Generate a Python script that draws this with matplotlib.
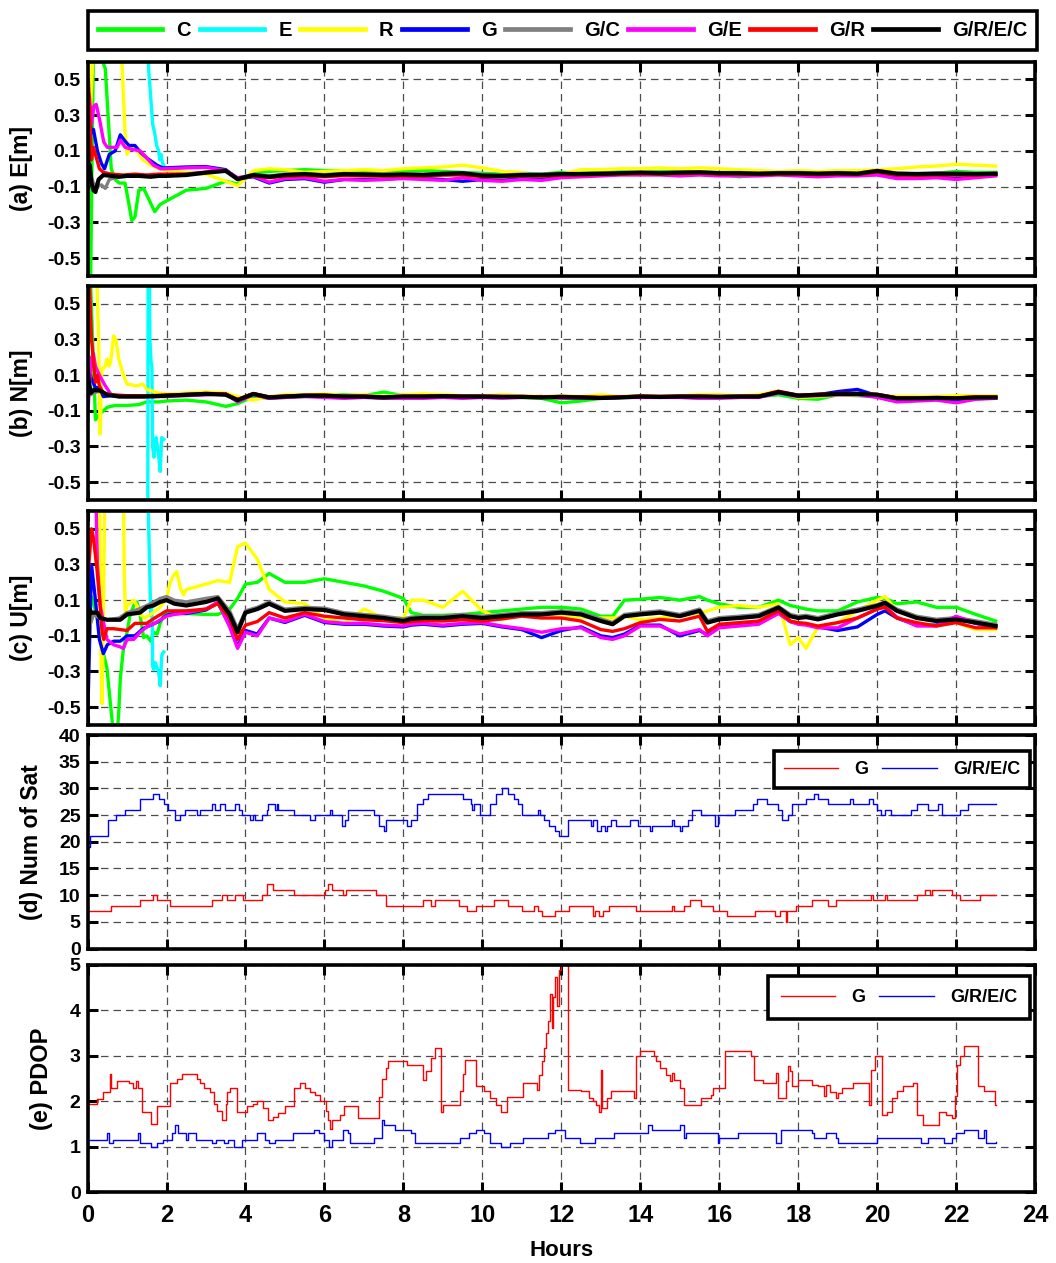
import matplotlib
matplotlib.use("Agg")
import matplotlib.pyplot as plt
from matplotlib.lines import Line2D

plt.rcParams['font.family'] = ['Liberation Sans', 'DejaVu Sans']
plt.rcParams['font.weight'] = 'bold'
plt.rcParams['axes.unicode_minus'] = False

# ---------------------------------------------------------------- series ids
systems = ["C", "E", "R", "G", "G/C", "G/E", "G/R", "G/R/E/C"]
system_colors = ["#00ff00", "#00ffff", "#ffff00", "#0000ff",
                 "#808080", "#ff00ff", "#ff0000", "#000000"]

# ---------------------------------------------------------------- (a) East
east_hours = [2.0, 2.5, 3.0, 3.5, 3.8, 4.2, 4.6, 5.0, 5.5, 6.0,
              6.5, 7.0, 7.5, 8.0, 8.5, 9.0, 9.5, 10.0, 10.5, 11.0,
              11.5, 12.0, 12.5, 13.0, 13.5, 14.0, 14.5, 15.0, 15.5, 16.0,
              16.5, 17.0, 17.5, 18.0, 18.5, 19.0, 19.5, 20.0, 20.5, 21.0,
              21.5, 22.0, 22.5, 23.0]

east_C_early_t = [0.0, 0.08, 0.15, 0.3, 0.45, 0.52, 0.6, 0.7, 0.8, 0.95, 1.05, 1.12, 1.2, 1.3, 1.42, 1.55, 1.7, 1.84]
east_C_early_v = [-0.9, -0.6, 0.7, 0.65, 0.56, 0.3, 0.0, -0.06, -0.08, -0.08, -0.2, -0.29, -0.27, -0.12, -0.11, -0.17, -0.24, -0.2]
east_C = [-0.18, -0.12, -0.11, -0.07, -0.085, -0.025, -0.015, -0.010, -0.005, -0.010,
          -0.010, -0.020, -0.015, -0.010, -0.010, -0.015, -0.020, -0.025, -0.030, -0.025,
          -0.030, -0.020, -0.025, -0.020, -0.015, -0.020, -0.015, -0.015, -0.020, -0.030,
          -0.045, -0.035, -0.030, -0.035, -0.040, -0.035, -0.030, -0.025, -0.030, -0.030,
          -0.025, -0.015, -0.020, -0.020]

east_E_early_t = [0.0, 1.5, 1.55, 1.6, 1.65, 1.7, 1.75, 1.8, 1.83, 1.86, 1.9, 1.93]
east_E_early_v = [1.5, 1.2, 0.55, 0.4, 0.25, 0.2, 0.13, 0.1, 0.05, 0.08, 0.03, 0.02]

east_R_early_t = [0.0, 0.08, 0.15, 0.25, 0.8, 0.87, 0.95, 1.0, 1.1, 1.25, 1.4, 1.6, 1.8]
east_R_early_v = [0.7, 0.35, 0.7, 0.9, 0.9, 0.6, 0.2, 0.08, 0.13, 0.1, 0.05, 0.02, 0.0]
east_R = [-0.010, -0.020, -0.030, -0.070, -0.095, -0.010, 0.000, -0.005, -0.020, -0.015,
          -0.010, -0.005, -0.010, 0.000, 0.005, 0.010, 0.020, 0.005, -0.015, -0.020,
          -0.060, -0.030, -0.005, -0.005, 0.000, 0.000, 0.005, 0.000, 0.005, 0.000,
          -0.005, -0.010, -0.015, -0.010, -0.015, -0.010, -0.010, -0.005, 0.000, 0.010,
          0.015, 0.025, 0.020, 0.015]

east_G_early_t = [0.0, 0.05, 0.1, 0.15, 0.25, 0.35, 0.43, 0.55, 0.7, 0.83, 0.93, 1.05, 1.2, 1.35, 1.5, 1.76, 1.9]
east_G_early_v = [0.42, 0.3, 0.2, 0.22, 0.1, 0.03, 0.0, 0.08, 0.1, 0.19, 0.16, 0.13, 0.13, 0.09, 0.06, 0.02, 0.005]
east_G = [0.005, 0.010, 0.012, -0.005, -0.055, -0.045, -0.080, -0.060, -0.055, -0.075,
          -0.060, -0.060, -0.060, -0.050, -0.055, -0.060, -0.070, -0.060, -0.065, -0.055,
          -0.060, -0.045, -0.040, -0.035, -0.030, -0.030, -0.030, -0.035, -0.020, -0.035,
          -0.035, -0.035, -0.030, -0.025, -0.035, -0.035, -0.035, -0.030, -0.050, -0.050,
          -0.045, -0.055, -0.045, -0.035]

east_GC_early_t = [0.0, 0.05, 0.15, 0.25, 0.35, 0.45, 0.55, 0.7, 0.9, 1.2, 1.5, 1.8]
east_GC_early_v = [0.1, -0.02, -0.08, -0.1, -0.09, -0.11, -0.06, -0.05, -0.04, -0.04, -0.04, -0.035]
east_GC = [-0.035, -0.030, -0.018, -0.010, -0.052, -0.032, -0.040, -0.030, -0.026, -0.033,
           -0.026, -0.028, -0.030, -0.028, -0.030, -0.025, -0.022, -0.033, -0.035, -0.030,
           -0.030, -0.026, -0.026, -0.024, -0.021, -0.019, -0.021, -0.019, -0.017, -0.021,
           -0.021, -0.024, -0.021, -0.021, -0.024, -0.021, -0.024, -0.010, -0.024, -0.026,
           -0.024, -0.024, -0.026, -0.024]

east_GE_early_t = [0.0, 0.05, 0.1, 0.16, 0.22, 0.3, 0.41, 0.5, 0.65, 0.75, 0.83, 0.95, 1.1, 1.33, 1.5, 1.67, 1.85]
east_GE_early_v = [0.45, 0.4, 0.25, 0.35, 0.36, 0.28, 0.15, 0.12, 0.12, 0.12, 0.16, 0.12, 0.11, 0.1, 0.06, 0.02, 0.0]
east_GE = [0.000, 0.005, 0.008, -0.010, -0.050, -0.040, -0.075, -0.055, -0.050, -0.070,
           -0.060, -0.065, -0.060, -0.055, -0.060, -0.065, -0.050, -0.065, -0.070, -0.060,
           -0.065, -0.050, -0.045, -0.040, -0.035, -0.035, -0.035, -0.040, -0.035, -0.040,
           -0.040, -0.040, -0.035, -0.040, -0.045, -0.040, -0.040, -0.035, -0.055, -0.055,
           -0.050, -0.060, -0.050, -0.040]

east_GR_early_t = [0.0, 0.02, 0.05, 0.1, 0.15, 0.2, 0.3, 0.4, 0.6, 0.9, 1.2, 1.5, 1.8]
east_GR_early_v = [-0.4, 0.5, 0.35, 0.05, 0.12, 0.08, 0.0, -0.02, -0.03, -0.035, -0.03, -0.035, -0.03]
east_GR = [-0.030, -0.030, -0.020, -0.010, -0.060, -0.040, -0.050, -0.042, -0.038, -0.045,
           -0.038, -0.040, -0.042, -0.040, -0.042, -0.036, -0.034, -0.045, -0.046, -0.040,
           -0.042, -0.036, -0.035, -0.033, -0.030, -0.028, -0.030, -0.028, -0.025, -0.030,
           -0.030, -0.033, -0.030, -0.030, -0.034, -0.030, -0.033, -0.018, -0.036, -0.038,
           -0.035, -0.036, -0.036, -0.032]

east_GREC_early_t = [0.0, 0.03, 0.06, 0.1, 0.15, 0.2, 0.28, 0.4, 0.6, 0.8, 1.0, 1.3, 1.6, 1.8]
east_GREC_early_v = [0.32, -0.05, 0.02, -0.08, -0.12, -0.13, -0.06, -0.035, -0.04, -0.045, -0.04, -0.04, -0.045, -0.04]
east_GREC = [-0.040, -0.035, -0.022, -0.012, -0.058, -0.035, -0.045, -0.035, -0.030, -0.038,
             -0.030, -0.032, -0.035, -0.032, -0.035, -0.028, -0.025, -0.038, -0.040, -0.035,
             -0.035, -0.030, -0.030, -0.028, -0.025, -0.022, -0.025, -0.022, -0.020, -0.025,
             -0.025, -0.028, -0.025, -0.025, -0.028, -0.025, -0.028, -0.012, -0.028, -0.030,
             -0.028, -0.028, -0.030, -0.028]

# ---------------------------------------------------------------- (b) North
north_hours = east_hours

north_C_early_t = [0.0, 0.04, 0.08, 0.2, 0.3, 0.4, 0.5, 0.7, 1.0, 1.3, 1.5, 1.8]
north_C_early_v = [0.0, 0.7, 0.6, -0.15, -0.12, -0.1, -0.08, -0.07, -0.07, -0.065, -0.05, -0.05]
north_C = [-0.045, -0.040, -0.050, -0.075, -0.060, -0.020, -0.030, -0.025, -0.020, -0.010,
           -0.010, -0.015, 0.005, -0.015, -0.020, -0.020, -0.015, -0.020, -0.020, -0.025,
           -0.030, -0.055, -0.045, -0.030, -0.020, -0.020, -0.025, -0.020, -0.030, -0.025,
           -0.025, -0.020, -0.010, -0.030, -0.035, -0.010, -0.015, -0.020, -0.020, -0.020,
           -0.025, -0.020, -0.020, -0.020]

north_E_early_t = [0.0, 0.03, 1.52, 1.54, 1.58, 1.61, 1.63, 1.65, 1.68, 1.71, 1.74, 1.8, 1.84, 1.88, 1.93]
north_E_early_v = [-0.5, -1.5, -1.5, 1.5, 0.3, 0.17, 0.15, -0.3, -0.36, -0.3, -0.25, -0.35, -0.44, -0.25, -0.26]

north_R_early_t = [0.0, 0.2, 0.28, 0.32, 0.36, 0.45, 0.49, 0.55, 0.6, 0.66, 0.72, 0.79, 0.91, 1.0, 1.25, 1.4, 1.5, 1.8]
north_R_early_v = [0.9, 0.9, 0.3, -0.23, 0.13, 0.15, 0.19, 0.15, 0.2, 0.32, 0.3, 0.19, 0.1, 0.05, 0.04, 0.05, 0.02, 0.0]
north_R = [-0.005, 0.000, 0.005, 0.000, -0.020, -0.040, -0.020, -0.010, -0.010, -0.005,
           -0.015, -0.010, -0.020, -0.010, -0.005, -0.010, -0.015, -0.015, -0.010, -0.015,
           -0.020, -0.015, -0.020, -0.010, -0.020, -0.015, -0.020, -0.015, -0.010, -0.010,
           -0.015, -0.010, 0.012, -0.025, -0.020, -0.010, -0.010, -0.015, -0.020, -0.020,
           -0.020, -0.015, -0.015, -0.015]

north_G_early_t = [0.0, 0.05, 0.1, 0.2, 0.3, 0.4, 0.6, 1.0, 1.5]
north_G_early_v = [0.12, 0.1, 0.08, 0.03, 0.03, -0.02, -0.015, -0.015, -0.015]
north_G = [-0.015, -0.012, -0.008, -0.005, -0.045, -0.008, -0.028, -0.022, -0.018, -0.020,
           -0.025, -0.022, -0.028, -0.025, -0.025, -0.022, -0.025, -0.022, -0.025, -0.022,
           -0.020, -0.025, -0.028, -0.030, -0.025, -0.022, -0.022, -0.022, -0.025, -0.025,
           -0.022, -0.022, 0.002, -0.015, -0.010, 0.008, 0.020, -0.015, -0.045, -0.040,
           -0.035, -0.050, -0.032, -0.028]

north_GC_early_t = [0.0, 0.03, 0.08, 0.15, 0.3, 0.5, 0.8, 1.1, 1.4, 1.7]
north_GC_early_v = [0.1, 0.02, -0.01, 0.0, 0.01, -0.01, -0.02, -0.02, -0.02, -0.02]
north_GC = [-0.012, -0.008, -0.004, -0.008, -0.038, -0.004, -0.022, -0.018, -0.013, -0.013,
            -0.018, -0.018, -0.022, -0.018, -0.018, -0.016, -0.018, -0.018, -0.020, -0.020,
            -0.022, -0.020, -0.022, -0.025, -0.022, -0.018, -0.020, -0.018, -0.018, -0.020,
            -0.018, -0.018, 0.006, -0.013, -0.008, -0.004, -0.004, -0.008, -0.028, -0.028,
            -0.026, -0.028, -0.023, -0.023]

north_GE_early_t = [0.0, 0.05, 0.1, 0.15, 0.2, 0.3, 0.45, 0.6, 1.0, 1.5]
north_GE_early_v = [-0.15, 0.05, 0.2, 0.22, 0.15, 0.1, 0.04, -0.01, -0.02, -0.02]
north_GE = [-0.020, -0.015, -0.010, -0.005, -0.050, -0.010, -0.030, -0.025, -0.020, -0.025,
            -0.030, -0.025, -0.030, -0.030, -0.030, -0.025, -0.030, -0.025, -0.030, -0.025,
            -0.020, -0.030, -0.030, -0.030, -0.025, -0.025, -0.025, -0.025, -0.030, -0.030,
            -0.025, -0.025, 0.000, -0.020, -0.015, -0.010, -0.010, -0.025, -0.050, -0.045,
            -0.040, -0.055, -0.035, -0.030]

north_GR_early_t = [0.0, 0.05, 0.1, 0.2, 0.25, 0.3, 0.4, 0.6, 1.0, 1.5]
north_GR_early_v = [0.7, 0.6, 0.3, 0.06, 0.1, 0.04, 0.0, -0.01, -0.015, -0.015]
north_GR = [-0.012, -0.008, -0.002, -0.006, -0.036, -0.003, -0.022, -0.017, -0.012, -0.012,
            -0.017, -0.017, -0.022, -0.017, -0.017, -0.015, -0.017, -0.017, -0.019, -0.019,
            -0.022, -0.019, -0.022, -0.025, -0.022, -0.017, -0.019, -0.017, -0.017, -0.019,
            -0.017, -0.017, 0.010, -0.012, -0.007, -0.002, -0.002, -0.007, -0.027, -0.027,
            -0.025, -0.027, -0.022, -0.022]

north_GREC_early_t = [0.0, 0.03, 0.08, 0.15, 0.3, 0.5, 0.8, 1.1, 1.4, 1.7]
north_GREC_early_v = [0.15, 0.07, 0.0, 0.016, 0.015, -0.01, -0.02, -0.02, -0.02, -0.018]
north_GREC = [-0.015, -0.010, -0.005, -0.010, -0.040, -0.005, -0.025, -0.020, -0.015, -0.015,
              -0.020, -0.020, -0.025, -0.020, -0.020, -0.018, -0.020, -0.020, -0.022, -0.022,
              -0.025, -0.022, -0.025, -0.028, -0.025, -0.020, -0.022, -0.020, -0.020, -0.022,
              -0.020, -0.020, 0.005, -0.015, -0.010, -0.005, -0.005, -0.010, -0.030, -0.030,
              -0.028, -0.030, -0.025, -0.025]

# ---------------------------------------------------------------- (c) Up
up_hours = [2.5, 3.0, 3.3, 3.6, 3.8, 4.0, 4.3, 4.6, 5.0, 5.5,
            6.0, 6.5, 7.0, 7.5, 8.0, 8.2, 8.5, 9.0, 9.5, 10.0,
            10.5, 11.0, 11.5, 12.0, 12.5, 13.0, 13.3, 13.6, 14.0, 14.5,
            15.0, 15.5, 15.7, 16.0, 16.5, 17.0, 17.5, 17.8, 18.0, 18.2,
            18.5, 19.0, 19.5, 20.0, 20.2, 20.5, 21.0, 21.5, 22.0, 22.5,
            23.0]

up_C_early_t = [0.0, 0.1, 0.2, 0.3, 0.37, 0.49, 0.62, 0.66, 0.75, 0.79, 0.83, 0.91, 1.0, 1.08, 1.17, 1.25,
                1.33, 1.42, 1.5, 1.6, 1.67, 1.76, 1.84, 1.95, 2.2]
up_C_early_v = [0.1, 0.12, 0.04, -0.05, -0.17, -0.28, -0.57, -0.65, -0.65, -0.53, -0.34, -0.17, -0.08, 0.02, 0.07, 0.09,
                0.02, -0.11, -0.1, -0.13, -0.08, -0.09, -0.03, 0.03, 0.03]
up_C = [0.025, 0.02, 0.02, 0.05, 0.11, 0.19, 0.2, 0.25, 0.2, 0.2,
        0.22, 0.2, 0.18, 0.15, 0.11, 0.03, 0.015, 0.015, 0.02, 0.03,
        0.04, 0.05, 0.06, 0.06, 0.05, 0.01, 0.01, 0.1, 0.105, 0.115,
        0.1, 0.12, 0.1, 0.08, 0.06, 0.06, 0.1, 0.07, 0.06, 0.05,
        0.04, 0.04, 0.09, 0.115, 0.11, 0.08, 0.09, 0.06, 0.06, 0.02,
        -0.017]

up_E_early_t = [0.0, 1.5, 1.6, 1.62, 1.64, 1.65, 1.68, 1.71, 1.8, 1.84, 1.88, 1.93]
up_E_early_v = [1.5, 1.0, 0.014, 0.05, -0.01, -0.27, -0.29, -0.25, -0.3, -0.38, -0.21, -0.19]

up_R_early_t = [0.0, 0.3, 0.34, 0.37, 0.41, 0.45, 0.9, 0.93, 0.96, 1.0, 1.17, 1.25, 1.33, 1.45, 1.6, 1.84,
                2.0, 2.08, 2.18, 2.26, 2.35, 2.43]
up_R_early_v = [0.9, 0.9, -0.2, -0.48, 0.2, 0.9, 0.9, 0.25, 0.02, 0.07, 0.1, 0.07, 0.02, 0.0, 0.02, 0.06,
                0.11, 0.19, 0.24, 0.26, 0.17, 0.13]
up_R = [0.16, 0.19, 0.21, 0.2, 0.4, 0.42, 0.33, 0.16, 0.09, 0.08,
        0.0, -0.03, 0.05, 0.0, 0.0, 0.1, 0.1, 0.06, 0.15, 0.04,
        -0.01, 0.03, 0.02, 0.015, 0.005, 0.0, 0.0, 0.01, -0.01, 0.0,
        0.01, 0.03, 0.04, 0.06, 0.07, 0.06, 0.08, -0.15, -0.11, -0.17,
        -0.05, -0.027, 0.04, 0.1, 0.12, 0.04, 0.0, -0.017, -0.026, -0.065,
        -0.065]

up_G_early_t = [0.0, 0.1, 0.2, 0.3, 0.4, 0.5, 0.66, 0.83, 1.0, 1.2, 1.4, 1.6, 1.8, 2.0, 2.2]
up_G_early_v = [-0.6, 0.3, 0.1, -0.12, -0.2, -0.15, -0.13, -0.13, -0.1, -0.1, -0.06, -0.04, -0.02, 0.015, 0.025]
up_G = [0.025, 0.045, 0.085, -0.04, -0.16, -0.07, -0.09, 0.0, -0.025, 0.015,
        -0.025, -0.035, -0.035, -0.045, -0.05, -0.04, -0.035, -0.045, -0.035, -0.03,
        -0.05, -0.065, -0.11, -0.07, -0.05, -0.1, -0.11, -0.09, -0.04, -0.04,
        -0.1, -0.07, -0.095, -0.05, -0.04, -0.03, 0.03, -0.02, -0.03, -0.035,
        -0.05, -0.07, -0.05, 0.02, 0.04, 0.0, -0.04, -0.04, 0.0, -0.03,
        -0.05]

up_GC_early_t = [0.0, 0.05, 0.15, 0.3, 0.5, 0.8, 1.0, 1.3, 1.6, 1.84, 2.0, 2.2]
up_GC_early_v = [0.05, -0.05, 0.02, 0.0, -0.01, 0.0, 0.03, 0.05, 0.08, 0.11, 0.12, 0.1]
up_GC = [0.09, 0.11, 0.12, 0.04, -0.06, 0.04, 0.06, 0.09, 0.05, 0.06,
         0.055, 0.03, 0.02, 0.01, -0.005, 0.005, 0.01, 0.01, 0.02, 0.01,
         0.02, 0.03, 0.03, 0.04, 0.03, -0.005, -0.025, 0.02, 0.03, 0.04,
         0.02, 0.05, -0.015, 0.002, 0.01, 0.02, 0.065, 0.02, 0.01, 0.015,
         0.002, 0.03, 0.05, 0.075, 0.09, 0.05, 0.01, -0.007, 0.002, -0.016,
         -0.035]

up_GE_early_t = [0.0, 0.2, 0.25, 0.32, 0.49, 0.66, 0.8, 0.91, 1.0, 1.17, 1.33, 1.5, 1.7, 2.0, 2.2]
up_GE_early_v = [0.8, 0.8, 0.3, 0.07, -0.12, -0.15, -0.16, -0.17, -0.12, -0.12, -0.08, -0.05, -0.03, 0.01, 0.02]
up_GE = [0.03, 0.05, 0.09, -0.05, -0.17, -0.08, -0.1, 0.0, -0.02, 0.02,
         -0.02, -0.03, -0.03, -0.04, -0.045, -0.035, -0.03, -0.04, -0.03, -0.026,
         -0.045, -0.06, -0.08, -0.06, -0.055, -0.11, -0.12, -0.1, -0.045, -0.045,
         -0.09, -0.065, -0.1, -0.055, -0.045, -0.035, 0.025, -0.02, -0.035, -0.04,
         -0.055, -0.055, 0.0, 0.05, 0.065, 0.005, -0.045, -0.045, 0.01, -0.03,
         -0.055]

up_GR_early_t = [0.0, 0.05, 0.1, 0.15, 0.24, 0.32, 0.37, 0.41, 0.49, 0.66, 1.0, 1.2, 1.5, 1.7, 2.0, 2.2]
up_GR_early_v = [0.2, 0.35, 0.5, 0.45, 0.27, 0.07, -0.08, -0.12, -0.06, -0.06, -0.07, -0.03, -0.03, 0.0, 0.04, 0.04]
up_GR = [0.04, 0.05, 0.08, 0.0, -0.12, -0.04, -0.02, 0.03, 0.0, 0.03,
         0.01, 0.0, -0.01, -0.015, -0.026, -0.02, -0.015, -0.017, -0.01, -0.017,
         -0.005, 0.01, 0.0, 0.0, -0.017, -0.065, -0.075, -0.06, -0.026, -0.008,
         -0.017, 0.01, -0.075, -0.035, -0.026, -0.017, 0.04, -0.017, -0.026, -0.03,
         -0.045, -0.026, 0.0, 0.05, 0.06, 0.0, -0.026, -0.045, -0.026, -0.055,
         -0.055]

up_GREC_early_t = [0.0, 0.02, 0.05, 0.1, 0.25, 0.32, 0.5, 0.83, 1.0, 1.33, 1.5, 1.67, 1.84, 2.0, 2.2]
up_GREC_early_v = [0.1, -0.12, 0.05, 0.03, 0.03, 0.0, -0.01, -0.01, 0.02, 0.03, 0.06, 0.07, 0.09, 0.1, 0.08]
up_GREC = [0.07, 0.09, 0.11, 0.02, -0.08, 0.03, 0.05, 0.08, 0.04, 0.05,
           0.045, 0.02, 0.01, 0.0, -0.017, -0.005, 0.0, 0.0, 0.01, 0.0,
           0.01, 0.02, 0.02, 0.03, 0.02, -0.017, -0.035, 0.01, 0.02, 0.03,
           0.01, 0.04, -0.026, -0.008, 0.0, 0.01, 0.058, 0.01, 0.0, 0.005,
           -0.008, 0.02, 0.04, 0.068, 0.085, 0.04, 0.0, -0.017, -0.008, -0.026,
           -0.045]

# ---------------------------------------------------------------- (d) satellites
nsat_G_hours = [0.0, 0.6, 1.33, 1.67, 1.76, 2.1, 3.15, 3.4, 3.53, 3.74, 3.95, 4.41, 4.54, 4.71, 5.22,
                6.02, 6.1, 6.19, 6.48, 6.55, 7.3, 7.55, 8.5, 8.7, 8.8, 9.4, 9.6, 9.85, 10.3, 10.65,
                11.0, 11.3, 11.4, 11.5, 11.85, 12.2, 12.8, 12.85, 12.95, 13.05, 13.2, 13.9, 14.8,
                14.85, 15.1, 15.27, 15.55, 15.85, 16.2, 16.9, 17.4, 17.55, 17.68, 17.72, 17.95,
                18.35, 18.75, 18.95, 19.85, 19.9, 20.2, 20.25, 21.0, 21.2, 21.35, 21.4, 21.9, 22.1,
                22.6, 23.0]
nsat_G = [7, 8, 9, 10, 9, 8, 9, 10, 9, 10, 9, 10, 12, 11, 10,
          11, 12, 11, 10, 11, 10, 8, 9, 8, 9, 8, 7, 8, 9, 8,
          7, 8, 7, 6, 7, 8, 6, 7, 6, 7, 8, 7, 8,
          7, 8, 9, 8, 7, 6, 7, 6, 7, 5, 7, 8,
          9, 8, 9, 10, 9, 10, 9, 10, 11, 10, 11, 10, 9,
          10, 10]

nsat_GREC_hours = [0.0, 0.05, 0.53, 0.72, 0.96, 1.33, 1.67, 1.8, 1.93, 2.05, 2.22, 2.35, 2.47, 2.77, 2.85,
                   3.15, 3.23, 3.36, 3.49, 3.74, 3.83, 3.91, 4.12, 4.2, 4.25, 4.41, 4.54, 4.58, 4.75,
                   4.8, 4.83, 5.22, 5.64, 5.77, 6.15, 6.2, 6.45, 6.52, 6.6, 7.25, 7.37, 7.5, 7.55,
                   8.1, 8.2, 8.35, 8.5, 8.63, 9.5, 9.7, 9.75, 9.8, 9.95, 10.2, 10.35, 10.5, 10.65,
                   10.8, 10.9, 11.0, 11.4, 11.45, 11.55, 11.7, 11.84, 11.95, 12.18, 12.75, 12.8,
                   12.9, 13.0, 13.1, 13.15, 13.27, 13.38, 13.73, 13.95, 14.25, 14.3, 14.8, 14.85,
                   15.0, 15.05, 15.2, 15.3, 15.55, 15.9, 15.98, 16.4, 16.86, 16.95, 17.2, 17.5,
                   17.6, 17.75, 17.85, 18.2, 18.4, 18.5, 18.75, 19.3, 19.4, 19.8, 19.9, 20.0, 20.1,
                   20.2, 20.35, 20.85, 21.0, 21.3, 21.55, 21.65, 22.1, 22.3, 23.0]
nsat_GREC = [19, 21, 24, 25, 26, 28, 29, 28, 27, 26, 24, 25, 26, 25, 26,
             27, 26, 27, 26, 27, 26, 25, 24, 25, 24, 25, 26, 27, 26,
             27, 26, 25, 24, 25, 26, 25, 23, 24, 26, 25, 23, 22, 24,
             23, 24, 27, 28, 29, 28, 27, 26, 27, 25, 27, 29, 30, 29,
             28, 27, 25, 26, 25, 24, 23, 22, 21, 24, 23, 24,
             22, 23, 22, 23, 24, 23, 24, 23, 22, 23, 24, 23,
             22, 23, 24, 26, 25, 23, 25, 26, 27, 28, 27, 26,
             24, 25, 27, 28, 29, 28, 27, 28, 27, 28, 27, 26, 25,
             26, 25, 26, 27, 26, 27, 25, 26, 27, 27]

# ---------------------------------------------------------------- (e) PDOP
pdop_G_hours = [0.0, 0.02, 0.25, 0.4, 0.57, 0.6, 0.75, 1.05, 1.15, 1.22, 1.28, 1.38, 1.6, 1.75, 2.1,
                2.26, 2.4, 2.77, 2.85, 2.95, 3.1, 3.2, 3.27, 3.4, 3.5, 3.53, 3.6, 3.78, 4.05, 4.2,
                4.3, 4.45, 4.58, 4.71, 4.83, 5.0, 5.22, 5.38, 5.5, 5.64, 5.75, 5.9, 6.03, 6.1,
                6.15, 6.2, 6.4, 6.5, 6.85, 7.37, 7.45, 7.55, 7.6, 8.1, 8.5, 8.57, 8.7, 8.8, 8.95,
                9.0, 9.43, 9.5, 9.55, 9.83, 10.05, 10.2, 10.35, 10.46, 10.63, 11.03, 11.38, 11.44,
                11.5, 11.55, 11.6, 11.67, 11.72, 11.76, 11.8, 11.84, 11.88, 11.95, 12.0, 12.05,
                12.16, 12.5, 12.7, 12.8, 12.87, 12.95, 13.0, 13.03, 13.15, 13.27, 13.85, 13.9,
                14.0, 14.35, 14.4, 14.5, 14.65, 14.75, 14.8, 14.85, 15.0, 15.1, 15.55, 15.8,
                15.85, 16.15, 16.8, 16.88, 17.1, 17.45, 17.5, 17.68, 17.75, 17.8, 17.85, 18.0,
                18.35, 18.5, 18.65, 18.7, 18.8, 18.95, 19.0, 19.1, 19.4, 19.8, 19.85, 19.95,
                20.12, 20.25, 20.37, 20.5, 20.65, 20.9, 21.0, 21.15, 21.57, 21.75, 21.9, 21.96,
                22.03, 22.1, 22.2, 22.55, 22.7, 22.98, 23.0]
pdop_G = [2.2, 1.95, 2.05, 2.2, 2.6, 2.3, 2.45, 2.4, 2.3, 2.45, 2.3, 1.77, 1.5, 1.9, 2.4,
          2.5, 2.6, 2.5, 2.4, 2.3, 2.2, 1.95, 1.8, 1.6, 1.95, 2.2, 2.3, 1.77, 1.9, 1.95,
          2.0, 1.85, 1.6, 1.65, 1.75, 1.9, 2.3, 2.4, 2.3, 2.2, 2.15, 2.0, 1.8, 1.6,
          1.4, 1.6, 1.7, 1.9, 1.63, 2.1, 2.5, 2.74, 2.9, 2.8, 2.48, 2.66, 2.96, 3.18, 1.78,
          1.93, 2.22, 2.6, 2.92, 2.33, 2.22, 2.07, 1.93, 1.78, 2.09, 2.4, 2.26, 2.59,
          2.9, 3.18, 3.5, 3.77, 4.36, 3.62, 4.3, 4.73, 4.1, 4.88, 5.0, 5.5,
          2.26, 2.22, 2.07, 2.0, 1.93, 1.78, 2.7, 1.85, 2.07, 2.22, 2.07, 3.0,
          3.1, 3.0, 2.88, 2.74, 2.59, 2.44, 2.63, 2.48, 2.3, 1.93, 2.07, 2.15,
          2.3, 3.1, 3.0, 2.48, 2.4, 2.63, 2.07, 2.44, 2.77, 2.66, 2.33, 2.48,
          2.37, 2.33, 2.11, 2.37, 2.2, 2.07, 2.18, 2.3, 2.4, 1.93, 2.7, 3.0,
          1.7, 1.78, 2.07, 2.22, 2.33, 2.4, 1.7, 1.48, 1.78, 1.7, 1.63, 2.11,
          2.8, 3.0, 3.22, 2.33, 2.22, 1.93, 1.93]

pdop_GREC_hours = [0.0, 0.5, 0.55, 0.65, 1.28, 1.33, 1.6, 1.75, 1.9, 2.14, 2.22, 2.3, 2.5, 2.55, 2.75,
                   3.15, 3.25, 3.45, 3.55, 3.7, 3.9, 4.3, 4.5, 4.6, 4.75, 5.2, 5.73, 5.85, 6.0, 6.12,
                   6.2, 6.48, 6.6, 6.65, 7.25, 7.45, 7.5, 7.8, 8.2, 8.3, 9.43, 9.66, 9.83, 10.05,
                   10.2, 10.46, 10.7, 11.03, 11.67, 11.84, 12.1, 12.47, 12.86, 13.33, 14.2, 14.3,
                   15.0, 15.1, 15.15, 15.96, 16.0, 16.48, 17.45, 17.56, 18.35, 18.4, 18.7, 18.95,
                   19.0, 20.0, 21.1, 21.3, 21.7, 21.9, 22.0, 22.2, 22.56, 22.7, 22.75, 23.0]
pdop_GREC = [1.16, 1.3, 1.09, 1.16, 1.3, 1.09, 1.0, 1.09, 1.16, 1.3, 1.48, 1.3, 1.16, 1.3, 1.16,
             1.09, 1.16, 1.09, 1.16, 1.0, 1.16, 1.3, 1.16, 1.09, 1.16, 1.3, 1.38, 1.3, 1.16, 1.0,
             1.16, 1.38, 1.3, 1.08, 1.19, 1.6, 1.48, 1.37, 1.3, 1.08, 1.19, 1.3, 1.37, 1.3,
             1.08, 1.0, 1.08, 1.19, 1.3, 1.37, 1.19, 1.08, 1.19, 1.3, 1.48, 1.37,
             1.48, 1.19, 1.3, 1.08, 1.19, 1.3, 1.08, 1.37, 1.3, 1.19, 1.3, 1.19,
             1.08, 1.19, 1.08, 1.19, 1.08, 1.19, 1.3, 1.37, 1.19, 1.37, 1.08, 1.1]

hour_ticks = list(range(0, 25, 2))

# ---------------------------------------------------------------- layout
fig = plt.figure(figsize=(10.56, 12.63), dpi=100)
left, width = 0.0829, 0.8973
panel_boxes = [
    (0.78147, 0.16983),
    (0.60412, 0.16944),
    (0.42597, 0.16944),
    (0.24901, 0.16904),
    (0.05582, 0.18013),
]
axes = [fig.add_axes([left, b, width, h]) for b, h in panel_boxes]

GRID_STYLE = dict(linestyle=(0, (6, 4)), color="0.3", linewidth=0.9)


def style_axes(ax, show_xlabels=False):
    ax.set_xlim(0, 24)
    ax.set_xticks(hour_ticks)
    ax.set_axisbelow(True)
    ax.grid(True, **GRID_STYLE)
    ax.tick_params(direction="in", length=7, width=2.2, top=True, right=True,
                   labelsize=14, pad=5)
    ax.tick_params(axis="x", labelbottom=show_xlabels, labelsize=17, pad=8)
    for sp in ax.spines.values():
        sp.set_linewidth(2.6)
    for lab in ax.get_xticklabels() + ax.get_yticklabels():
        lab.set_fontweight("bold")


def solution_series(panel):
    names = ["C", "E", "R", "G", "GC", "GE", "GR", "GREC"]
    g = globals()
    out = []
    for n in names:
        t = list(g[f"{panel}_{n}_early_t"])
        v = list(g[f"{panel}_{n}_early_v"])
        if f"{panel}_{n}" in g:
            t += list(g[f"{panel}_hours"])
            v += list(g[f"{panel}_{n}"])
        out.append((t, v))
    return out


ylabels = ["(a) E[m]", "(b) N[m]", "(c) U[m]"]
for ax, panel, lab in zip(axes[:3], ["east", "north", "up"], ylabels):
    for (t, v), name, col in zip(solution_series(panel), systems, system_colors):
        lw = 3.0 if name == "G/R/E/C" else 2.4
        ax.plot(t, v, color=col, linewidth=lw, solid_joinstyle="round")
    ax.set_ylim(-0.6, 0.6)
    yt = [-0.5, -0.3, -0.1, 0.1, 0.3, 0.5]
    ax.set_yticks(yt)
    ax.set_yticklabels([f"{y:.1f}" for y in yt])
    style_axes(ax)
    ax.set_ylabel(lab, fontsize=16.5, fontweight="bold")
    ax.yaxis.set_label_coords(-0.058, 0.5)

# satellites
ax = axes[3]
ax.plot(nsat_G_hours, nsat_G, color="#ff0000", linewidth=1.0, drawstyle="steps-post")
ax.plot(nsat_GREC_hours, nsat_GREC, color="#0000ff", linewidth=1.0, drawstyle="steps-post")
ax.set_ylim(0, 40)
ax.set_yticks(range(0, 41, 5))
style_axes(ax)
ax.set_ylabel("(d) Num of Sat", fontsize=16.5, fontweight="bold")
ax.yaxis.set_label_coords(-0.047, 0.5)

# PDOP
ax = axes[4]
ax.plot(pdop_G_hours, pdop_G, color="#ff0000", linewidth=1.0, drawstyle="steps-post")
ax.plot(pdop_GREC_hours, pdop_GREC, color="#0000ff", linewidth=1.0, drawstyle="steps-post")
ax.set_ylim(0, 5)
ax.set_yticks(range(0, 6))
style_axes(ax, show_xlabels=True)
ax.set_ylabel("(e) PDOP", fontsize=17, fontweight="bold")
ax.yaxis.set_label_coords(-0.036, 0.5)
ax.set_xlabel("Hours", fontsize=16, fontweight="bold", labelpad=10)

# small legends in (d) and (e)
for ax, top, pad in [(axes[3], 0.925, 0.55), (axes[4], 0.952, 0.72)]:
    handles = [Line2D([], [], color="#ff0000", linewidth=1.0),
               Line2D([], [], color="#0000ff", linewidth=1.0)]
    leg = ax.legend(handles, ["G", "G/R/E/C"], ncol=2, loc="upper right",
                    bbox_to_anchor=(0.9947, top), borderaxespad=0,
                    fancybox=False, edgecolor="black", framealpha=1,
                    prop={"weight": "bold", "size": 13},
                    handlelength=3.0, columnspacing=0.8, handletextpad=0.9,
                    borderpad=pad)
    leg.get_frame().set_linewidth(2.6)

# top legend for the position solutions
handles = [Line2D([], [], color=c, linewidth=3.4) for c in system_colors]
leg = fig.legend(handles, systems, loc="lower left",
                 bbox_to_anchor=(0.0833, 0.9604, 0.899, 0.0333), mode="expand",
                 ncol=8, borderaxespad=0, fancybox=False, edgecolor="black",
                 framealpha=1, prop={"weight": "bold", "size": 14.5},
                 handlelength=3.2, handletextpad=0.7, borderpad=0.5)
leg.get_frame().set_linewidth(2.6)

fig.savefig("out.png", dpi=100)
